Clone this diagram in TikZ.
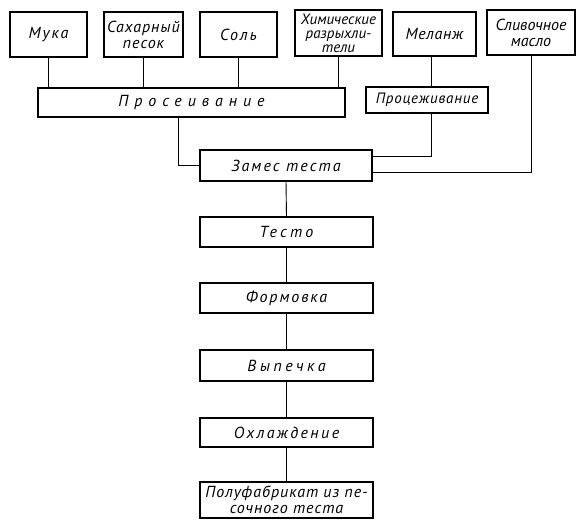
\documentclass[tikz,border=0pt]{standalone}
\usepackage{fontspec}
\setmainfont{PT Sans}
\newcommand{\sprd}[2]{{\addfontfeature{LetterSpace=#1}#2}}

\begin{document}
\begin{tikzpicture}[x=1pt,y=-1pt,
   stage/.style={draw,line width=1.2pt,inner sep=1pt,align=center,
      font=\itshape\fontsize{16}{16}\selectfont},
   small/.style={font=\itshape\fontsize{15}{14}\selectfont},
   link/.style={line width=0.9pt}]
\useasboundingbox (0,0) rectangle (588,527);
% raw materials
\node[stage,minimum width=77,minimum height=45] (muka) at (48.5,34.5) {\sprd{12}{Мука}};
\node[stage,minimum width=79,minimum height=45] (sakhar) at (143.5,34.5) {\sprd{6}{Сахарный}\\\sprd{6}{песок}};
\node[stage,minimum width=77,minimum height=45] (sol) at (238.5,34.5) {\sprd{12}{Соль}};
\node[stage,small,minimum width=87,minimum height=46] (khim) at (338.5,33) {Химические\\разрыхли-\\тели};
\node[stage,minimum width=83,minimum height=44] (melanzh) at (434.5,34) {\sprd{4}{Меланж}};
\node[stage,minimum width=88,minimum height=45] (maslo) at (531,32.5) {Сливочное\\масло};
% preparation
\node[stage,minimum width=307,minimum height=29] (proseiv) at (191.5,102.5) {\sprd{37}{Просеивание}};
\node[stage,small,minimum width=122,minimum height=26] (procezh) at (427,100) {\sprd{5}{Процеживание}};
\coordinate (melx) at (431,0);
\coordinate (prosx) at (178,0);
% main line
\node[stage,minimum width=172,minimum height=31] (zames) at (286,165.5) {\sprd{13}{Замес теста}};
\node[stage,minimum width=173,minimum height=30] (testo) at (286.5,232) {\sprd{20}{Тесто}};
\node[stage,minimum width=173,minimum height=30] (formovka) at (286.5,298) {\sprd{12}{Формовка}};
\node[stage,minimum width=173,minimum height=31] (vypechka) at (286.5,365.5) {\sprd{22}{Выпечка}};
\node[stage,minimum width=173,minimum height=29] (okhl) at (286.5,432.5) {\sprd{15}{Охлаждение}};
\node[stage,minimum width=173,minimum height=36] (polufab) at (286.5,500) {\sprd{6}{Полуфабрикат из пе-}\\\sprd{6}{сочного теста}};

\foreach \src in {muka,sakhar,sol,khim}
   \draw[link] (\src.south) -- (\src.south |- proseiv.north);
\draw[link] (melanzh.south -| melx) -- (procezh.north -| melx);
\draw[link] (procezh.south -| melx) |- ([yshift=9.5]zames.east);
\draw[link] (maslo.south) |- ([yshift=-6.5]zames.east);
\draw[link] (proseiv.south -| prosx) |- (zames.west);
\foreach \a/\b in {zames/testo,testo/formovka,formovka/vypechka,vypechka/okhl,okhl/polufab}
   \draw[link] (\a.south) -- (\b.north);
\end{tikzpicture}
\end{document}
